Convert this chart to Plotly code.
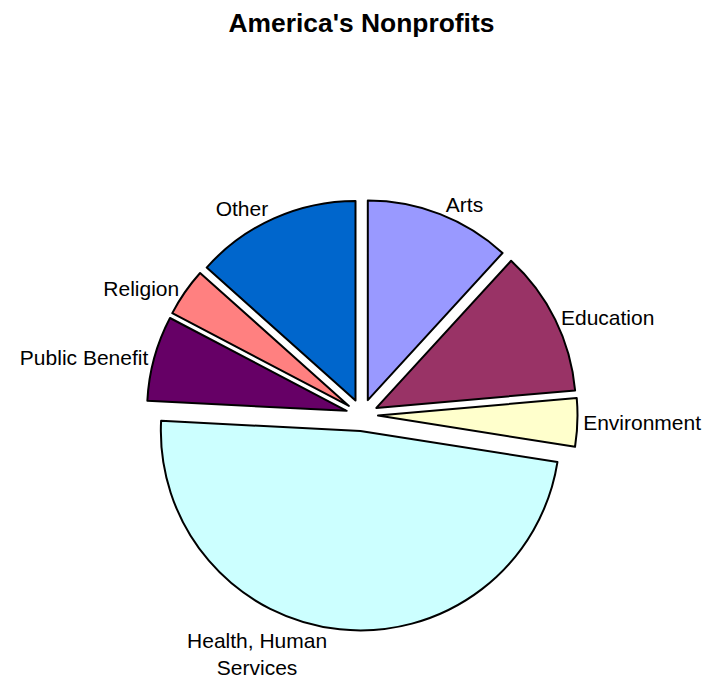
import plotly.graph_objects as go

# Share of America's nonprofits by sector (percent)
sectors = ["Arts", "Education", "Environment", "Health, Human<br>Services",
           "Public Benefit", "Religion", "Other"]
shares = [11.8, 11.8, 3.9, 48.3, 6.9, 3.9, 13.4]
colors = ["#9999FF", "#993366", "#FFFFCC", "#CCFFFF", "#660066", "#FF8080", "#0066CC"]

FONT = "Liberation Sans, Arial, sans-serif"

fig = go.Figure(go.Pie(
    labels=sectors,
    values=shares,
    sort=False,
    direction="clockwise",
    rotation=0,
    pull=[0.08] * len(sectors),
    marker=dict(colors=colors, line=dict(color="black", width=2)),
    textinfo="label",
    textposition="outside",
    automargin=False,
    outsidetextfont=dict(family=FONT, size=21, color="black"),
    hoverinfo="label+percent",
    domain=dict(x=[0.2055, 0.8100], y=[0.0915, 0.7125]),
    showlegend=False,
))

fig.update_layout(
    width=713, height=694,
    margin=dict(l=0, r=0, t=0, b=0, autoexpand=False),
    paper_bgcolor="white",
    title=dict(text="<b>America's Nonprofits</b>", x=0.507, xanchor="center",
               y=0.967, yanchor="middle", automargin=False,
               font=dict(family=FONT, size=26.4, color="black")),
)

fig.write_html("out.html")
